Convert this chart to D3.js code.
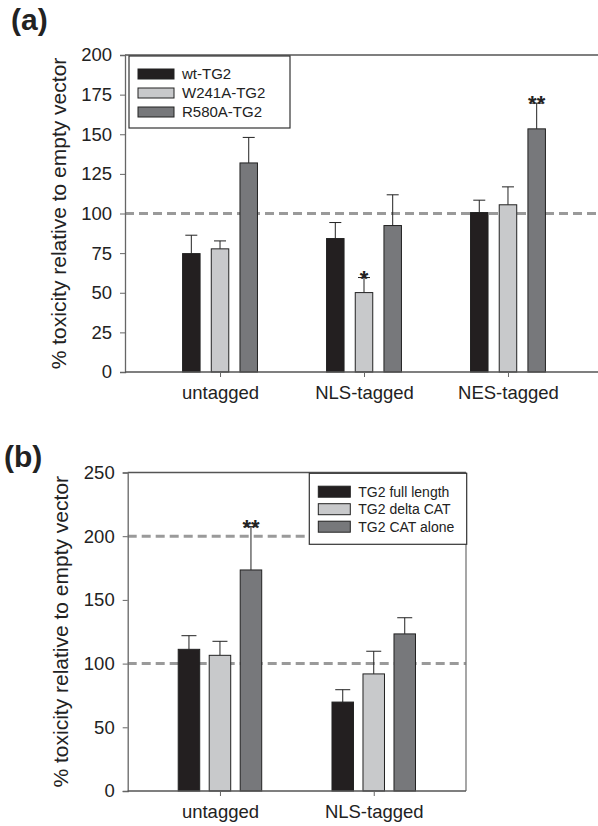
<!DOCTYPE html>
<html>
<head>
<meta charset="utf-8">
<script src="https://d3js.org/d3.v7.min.js"></script>
<style>
  body { margin: 0; background: #fff; }
  svg text { font-family: Arial, "Liberation Sans", sans-serif; fill: #222; }
</style>
</head>
<body>
<div id="chart"></div>
<script>
// panel (a)
var catsA = ["untagged", "NLS-tagged", "NES-tagged"];
var seriesA = ["wt-TG2", "W241A-TG2", "R580A-TG2"];
var meanA = [[74.7, 84.2, 100.6], [77.7, 50.1, 105.5], [131.9, 92.4, 153.4]];
var errA = [[11.6, 10.1, 7.8], [5.0, 9.5, 11.3], [16.1, 19.4, 16.2]];
var sigA = [["", "", ""], ["", "*", ""], ["", "", "**"]];
var ticksA = [0, 25, 50, 75, 100, 125, 150, 175, 200];
var refA = [100];

// panel (b)
var catsB = ["untagged", "NLS-tagged"];
var seriesB = ["TG2 full length", "TG2 delta CAT", "TG2 CAT alone"];
var meanB = [[111.2, 69.8], [106.5, 91.9], [173.5, 123.3]];
var errB = [[10.7, 9.7], [11.0, 17.8], [34.0, 12.7]];
var sigB = [["", ""], ["", ""], ["**", ""]];
var ticksB = [0, 50, 100, 150, 200, 250];
var refB = [100, 200];

var fills = ["#231f20", "#c8c9cb", "#77787b"];

var svg = d3.select("#chart").append("svg")
    .attr("width", 598)
    .attr("height", 826);

function drawPanel(p) {
  var g = svg.append("g");

  var y = d3.scaleLinear().domain([0, p.max]).range([p.bottom, p.top]);
  var x = d3.scalePoint().domain(p.cats).range([p.left, p.right]).padding(p.pad);

  // dashed reference lines
  g.selectAll(".ref").data(p.refs).enter().append("line")
      .attr("x1", p.left).attr("x2", p.right)
      .attr("y1", function(d) { return y(d); })
      .attr("y2", function(d) { return y(d); })
      .attr("stroke", "#9a9a9a")
      .attr("stroke-width", 3)
      .attr("stroke-dasharray", "9,5");

  // frame lines
  g.append("line").attr("x1", p.left).attr("x2", p.right)
      .attr("y1", p.top).attr("y2", p.top)
      .attr("stroke", "#555").attr("stroke-width", 1.3);
  if (p.box) {
    g.append("line").attr("x1", p.right).attr("x2", p.right)
        .attr("y1", p.top).attr("y2", p.bottom)
        .attr("stroke", "#777").attr("stroke-width", 1.3);
  }

  // bars
  p.series.forEach(function(s, si) {
    var off = (si - 1) * p.gap;
    var rows = p.cats.map(function(c, ci) {
      return {c: c, v: p.mean[si][ci], e: p.err[si][ci], sig: p.sig[si][ci]};
    });
    var bg = g.append("g");
    bg.selectAll("line.err").data(rows).enter().append("line")
        .attr("x1", function(d) { return x(d.c) + off; })
        .attr("x2", function(d) { return x(d.c) + off; })
        .attr("y1", function(d) { return y(d.v); })
        .attr("y2", function(d) { return y(d.v + d.e); })
        .attr("stroke", "#222").attr("stroke-width", 1);
    bg.selectAll("line.cap").data(rows).enter().append("line")
        .attr("x1", function(d) { return x(d.c) + off - p.cap; })
        .attr("x2", function(d) { return x(d.c) + off + p.cap; })
        .attr("y1", function(d) { return y(d.v + d.e); })
        .attr("y2", function(d) { return y(d.v + d.e); })
        .attr("stroke", "#222").attr("stroke-width", 1);
    bg.selectAll("rect").data(rows).enter().append("rect")
        .attr("x", function(d) { return x(d.c) + off - p.barW / 2; })
        .attr("y", function(d) { return y(d.v); })
        .attr("width", p.barW)
        .attr("height", function(d) { return y(0) - y(d.v); })
        .attr("fill", fills[si])
        .attr("stroke", "#222").attr("stroke-width", 1);
    bg.selectAll("text").data(rows.filter(function(d) { return d.sig; })).enter().append("text")
        .attr("x", function(d) { return x(d.c) + off; })
        .attr("y", function(d) { return y(d.v + d.e) + 8; })
        .attr("text-anchor", "middle")
        .attr("font-size", 22)
        .attr("font-weight", "bold")
        .text(function(d) { return d.sig; });
  });

  // axes
  var ya = g.append("g").attr("transform", "translate(" + p.left + ",0)")
      .call(d3.axisLeft(y).tickValues(p.ticks).tickSize(5).tickPadding(8));
  ya.selectAll("text").attr("font-size", 18.5);
  ya.select(".domain").attr("stroke", "#666").attr("stroke-width", 1.3);
  ya.selectAll(".tick line").attr("stroke", "#666");

  var xa = g.append("g").attr("transform", "translate(0," + p.bottom + ")")
      .call(d3.axisBottom(x).tickSize(5).tickPadding(9));
  xa.selectAll("text").attr("font-size", 18.5);
  xa.select(".domain").attr("d", "M" + p.left + ",0H" + p.right)
      .attr("stroke", "#555").attr("stroke-width", 1.3);
  xa.selectAll(".tick line").attr("stroke", "#666");

  // axis title
  g.append("text")
      .attr("transform", "translate(" + p.titleX + "," + ((p.top + p.bottom) / 2) + ") rotate(-90)")
      .attr("text-anchor", "middle")
      .attr("font-size", 21)
      .text("% toxicity relative to empty vector");

  // panel label
  g.append("text")
      .attr("x", p.labX).attr("y", p.labY)
      .attr("font-size", 30).attr("font-weight", "bold")
      .text(p.label);

  // legend
  var L = p.legend;
  g.append("rect")
      .attr("x", L.x).attr("y", L.y).attr("width", L.w).attr("height", L.h)
      .attr("fill", "#fff").attr("stroke", "#333").attr("stroke-width", 1.2);
  var li = g.selectAll(".leg").data(p.series).enter().append("g")
      .attr("transform", function(d, i) { return "translate(" + (L.x + 9) + "," + (L.y0 + i * L.step) + ")"; });
  li.append("rect")
      .attr("x", 0).attr("y", -L.sh / 2).attr("width", L.sw).attr("height", L.sh)
      .attr("fill", function(d, i) { return fills[i]; })
      .attr("stroke", "#222").attr("stroke-width", 1);
  li.append("text")
      .attr("x", L.sw + 8).attr("dy", "0.36em")
      .attr("font-size", L.fs)
      .text(function(d) { return d; });
}

drawPanel({
  cats: catsA, series: seriesA, mean: meanA, err: errA, sig: sigA,
  ticks: ticksA, refs: refA, max: 200,
  left: 125, right: 603, top: 55, bottom: 372, pad: 0.66,
  gap: 28.7, barW: 17.5, cap: 6, box: false,
  titleX: 66, label: "(a)", labX: 11, labY: 30,
  legend: {x: 129, y: 56, w: 161, h: 72, y0: 74, step: 19, sw: 36, sh: 10, fs: 15}
});

drawPanel({
  cats: catsB, series: seriesB, mean: meanB, err: errB, sig: sigB,
  ticks: ticksB, refs: refB, max: 250,
  left: 127.7, right: 466, top: 472.5, bottom: 791, pad: 0.6,
  gap: 31, barW: 21.5, cap: 7.5, box: true,
  titleX: 68, label: "(b)", labX: 4, labY: 467,
  legend: {x: 309.3, y: 473.3, w: 157.4, h: 71, y0: 491.7, step: 17.5, sw: 32, sh: 11, fs: 14}
});
</script>
</body>
</html>
